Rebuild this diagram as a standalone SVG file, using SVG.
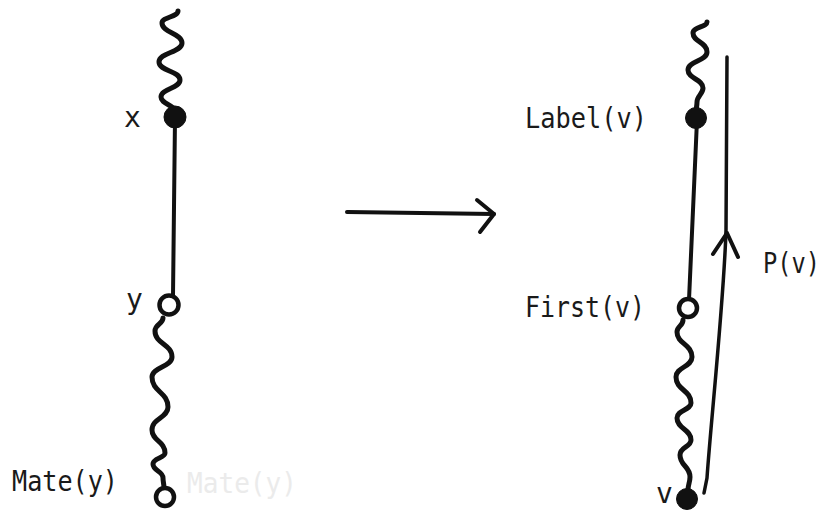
<svg xmlns="http://www.w3.org/2000/svg" width="829" height="514" viewBox="0 0 829 514">
<style>
.lbl{font-family:"DejaVu Sans Mono","Liberation Mono",monospace;font-size:28px;fill:#1a1a1a}
.ghost{font-family:"DejaVu Sans Mono","Liberation Mono",monospace;font-size:28px;fill:#ebebeb}
.wave{fill:none;stroke:#111;stroke-width:5;stroke-linecap:round;stroke-linejoin:round}
.edge{fill:none;stroke:#111;stroke-width:4;stroke-linecap:round;stroke-linejoin:round}
.thin{fill:none;stroke:#111;stroke-width:3.5;stroke-linecap:round;stroke-linejoin:round}
.full{fill:#111;stroke:#111;stroke-width:1}
.open{fill:#fff;stroke:#111;stroke-width:4.5}
</style>
<rect width="829" height="514" fill="#fff"/>
<g id="connectors">
<path class="wave" d="M178,11 C178,17 162,17 162,23 C162,33 182,33 182,43 C182,52.5 159,52.5 159,62 C159,71 180,71 180,80 C180,88.5 161,88.5 161,97 C161,104 175,105 175,112"/>
<path class="edge" d="M175,118 L173,296"/>
<path class="wave" d="M163,318 C163,324 155,324 155,331 C155,344 172,344 172,357 C172,367 152,367 152,377 C152,392 168,392 168,407 C168,418 152,418 152,430 C152,441 165,441 165,453 C165,458 153,458 153,464 C153,471 163,471 163,478 C163,482 164,484 164,488"/>
<path class="edge" d="M347,212 L494,214"/>
<path class="edge" d="M477,200 L494,214 L480,232"/>
<path class="wave" d="M707,22 C707,27 693,27 693,33 C693,42 707,42 707,52 C707,61 688,61 688,70 C688,79 703,79 703,88 C703,94 697,96 697,102 C697,106 696,109 696,112"/>
<path class="edge" d="M697,120 L689,300"/>
<path class="wave" d="M683,320 C683,326 677,326 677,332 C677,344 692,344 692,357 C692,367 676,367 676,377 C676,390 691,390 691,403 C691,410 677,410 677,418 C677,429 691,429 691,440 C691,447 680,447 680,455 C680,466 690,466 690,477 C690,482 688,485 688,490"/>
<path class="thin" d="M704,493 L707,478 C711,420 724,300 726,230 L727,57"/>
<path class="edge" d="M713,254 L727,233 L738,257"/>
</g>
<g id="node-x">
<circle class="full" cx="175" cy="117" r="11"/>
<text class="lbl" x="124" y="127">x</text>
</g>
<g id="node-y">
<circle class="open" cx="169" cy="305" r="9.5"/>
<text class="lbl" x="126" y="309">y</text>
</g>
<g id="node-mate-y">
<circle class="open" cx="165" cy="497" r="9"/>
<text class="lbl" x="12" y="491" textLength="106" lengthAdjust="spacingAndGlyphs">Mate(y)</text>
<text class="ghost" x="187" y="493" textLength="110" lengthAdjust="spacingAndGlyphs">Mate(y)</text>
</g>
<g id="node-label-v">
<circle class="full" cx="696" cy="118" r="10.5"/>
<text class="lbl" x="525" y="128" textLength="122" lengthAdjust="spacingAndGlyphs">Label(v)</text>
</g>
<g id="node-first-v">
<circle class="open" cx="688" cy="308" r="9"/>
<text class="lbl" x="525" y="317" textLength="120" lengthAdjust="spacingAndGlyphs">First(v)</text>
</g>
<g id="node-v">
<circle class="full" cx="687" cy="499" r="10.5"/>
<text class="lbl" x="656" y="503">v</text>
</g>
<g id="label-p-v">
<text class="lbl" x="763" y="273" textLength="57" lengthAdjust="spacingAndGlyphs">P(v)</text>
</g>
</svg>
